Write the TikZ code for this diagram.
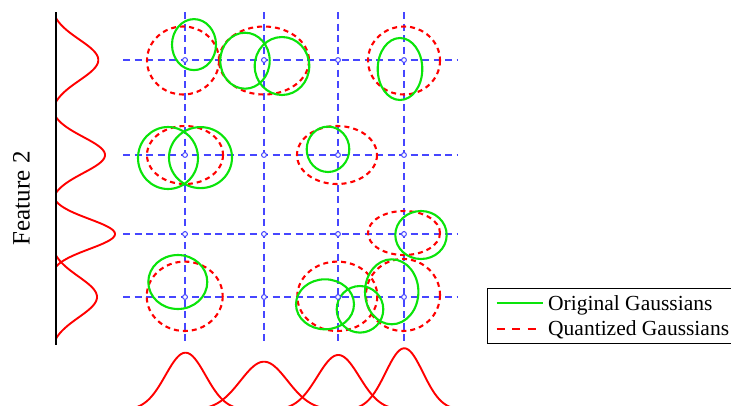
\documentclass[tikz,border=0pt]{standalone}
\usepackage{fontspec}
\setmainfont{Liberation Serif}
\begin{document}
\begin{tikzpicture}[x=1pt,y=-1pt,
  gridline/.style={draw=gridblue,line width=1.3pt,dash pattern=on 7pt off 4.5pt},
  gridpt/.style={circle,draw=gridblue,fill=white,line width=1pt,inner sep=0pt,minimum size=4.8pt},
  quant/.style={draw=qred,line width=2.1pt,dash pattern=on 5pt off 4pt},
  orig/.style={draw=ogreen,line width=2.1pt},
  bump/.style={draw=qred,line width=1.9pt},
  legtext/.style={font=\fontsize{21.5}{24}\selectfont,anchor=base west,inner sep=0pt}]
\definecolor{gridblue}{RGB}{70,70,255}
\definecolor{qred}{RGB}{255,0,0}
\definecolor{ogreen}{RGB}{10,228,10}
\useasboundingbox (0,0) rectangle (731,405);

% grid of quantization levels
\foreach \gy in {60,155,234,297} \draw[gridline] (123,\gy) -- (458,\gy);
\foreach \gx in {185,264,338,404} \draw[gridline] (\gx,12) -- (\gx,345);

% quantized Gaussians
\draw[quant] (183,60.5) ellipse [x radius=36,y radius=34];
\draw[quant] (264,60.5) ellipse [x radius=45,y radius=34];
\draw[quant] (404,60.5) ellipse [x radius=36,y radius=34];
\draw[quant] (185,155) ellipse [x radius=38,y radius=29];
\draw[quant] (337,155) ellipse [x radius=40,y radius=29];
\draw[quant] (404,233) ellipse [x radius=36,y radius=22];
\draw[quant] (184.7,296.3) ellipse [x radius=38,y radius=34.7];
\draw[quant] (337.3,296.3) ellipse [x radius=40,y radius=34.7];
\draw[quant] (403,295) ellipse [x radius=37,y radius=36];

% original Gaussians
\draw[orig] (194,44.6) ellipse [x radius=22,y radius=25.5];
\draw[orig] (245,60.7) ellipse [x radius=24.7,y radius=28];
\draw[orig] (282,66) ellipse [x radius=27.3,y radius=29];
\draw[orig] (400,69) ellipse [x radius=22.3,y radius=31];
\draw[orig] (168,158) ellipse [x radius=30,y radius=31];
\draw[orig] (200.5,157.6) ellipse [x radius=31.5,y radius=30.5];
\draw[orig] (328,149.3) ellipse [x radius=21.3,y radius=22.7];
\draw[orig] (421,235) ellipse [x radius=25.7,y radius=24];
\draw[orig] (177.8,282) ellipse [x radius=29.5,y radius=27];
\draw[orig] (325,304.3) ellipse [x radius=29,y radius=25];
\draw[orig] (360,309.3) ellipse [x radius=23.3,y radius=23.3];
\draw[orig] (391.7,291.8) ellipse [x radius=26.7,y radius=32.5];

% grid points
\foreach \gy [count=\r] in {60,155,234,297}
  \foreach \gx [count=\c] in {185,264,338,404}
    \node[gridpt] (p\r\c) at (\gx,\gy) {};

% marginal densities, feature 2 (left)
\begin{scope}
  \clip (56,0) rectangle (200,405);
  \draw[bump] plot[domain=0:120,samples=90,smooth] ({50+48.3*exp(-((\x-60)^2)/(2*20.5^2))},\x);
  \draw[bump] plot[domain=95:215,samples=90,smooth] ({50+55*exp(-((\x-155)^2)/(2*18^2))},\x);
  \draw[bump] plot[domain=174:294,samples=90,smooth] ({50+65*exp(-((\x-234)^2)/(2*15^2))},\x);
  \draw[bump] plot[domain=237:357,samples=90,smooth] ({50+47*exp(-((\x-297)^2)/(2*20.5^2))},\x);
\end{scope}
\draw[line width=2.2pt] (56,12) -- (56,345);

% marginal densities, feature 1 (bottom)
\begin{scope}
  \clip (0,0) rectangle (731,405);
  \draw[bump] plot[domain=125.5:245.5,samples=90,smooth] (\x,{410-57.3*exp(-((\x-185.5)^2)/(2*20^2))});
  \draw[bump] plot[domain=204:324,samples=90,smooth] (\x,{410-48.3*exp(-((\x-264)^2)/(2*23.5^2))});
  \draw[bump] plot[domain=278.3:398.3,samples=90,smooth] (\x,{410-55*exp(-((\x-338.3)^2)/(2*21^2))});
  \draw[bump] plot[domain=344.3:464.3,samples=90,smooth] (\x,{410-61.7*exp(-((\x-404.3)^2)/(2*18.7^2))});
\end{scope}

% axis label
\node[rotate=90,anchor=base,inner sep=0pt,font=\fontsize{25}{28}\selectfont] (ylab) at (29.5,198.3) {Feature 2};

% legend
\draw[line width=1.3pt] (740,288.3) -- (487.3,288.3) -- (487.3,343.3) -- (740,343.3);
\coordinate (la1) at (496.7,303.3);
\coordinate (lb1) at (542.7,303.3);
\coordinate (la2) at (496.7,329);
\coordinate (lb2) at (542.7,329);
\draw[orig] (la1) -- (lb1);
\draw[draw=qred,line width=2.1pt,dash pattern=on 8pt off 7.5pt] (la2) -- (lb2);
\node[legtext] (lt1) at (548,310) {Original Gaussians};
\node[legtext] (lt2) at (548,335.7) {Quantized Gaussians};
\end{tikzpicture}
\end{document}
